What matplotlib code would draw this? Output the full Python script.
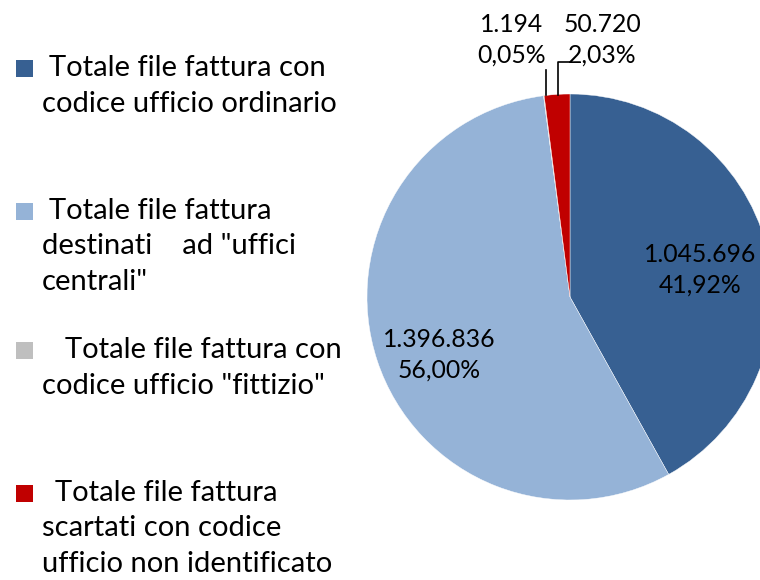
import matplotlib
matplotlib.use("Agg")
import matplotlib.pyplot as plt
from matplotlib.patches import Rectangle

categories = [
    "Totale file fattura con\ncodice ufficio ordinario",
    "Totale file fattura\ndestinati    ad \"uffici\ncentrali\"",
    "Totale file fattura con\ncodice ufficio \"fittizio\"",
    "Totale file fattura\nscartati con codice\nufficio non identificato",
]
values = [1045696, 1396836, 1194, 50720]
colors = ["#376092", "#95B3D7", "#BFBFBF", "#C00000"]

plt.rcParams["font.family"] = ["Lato", "DejaVu Sans"]

W, H = 760, 580
fig = plt.figure(figsize=(W / 100, H / 100), dpi=100)
ax = fig.add_axes([0, 0, 1, 1])

cx, cy, r = 570, 297, 203
# y axis is flipped below, so counterclock here draws clockwise on screen
ax.pie(values, colors=colors, startangle=-90, counterclock=True,
       center=(cx, cy), radius=r, frame=True,
       wedgeprops=dict(edgecolor="white", linewidth=0.3))
ax.set_xlim(0, W); ax.set_ylim(H, 0)
ax.set_aspect("equal"); ax.axis("off")

total = sum(values)


def fmt(v):
    num = f"{v:,}".replace(",", ".")
    pct = f"{100 * v / total:.2f}%".replace(".", ",")
    return f"{num}\n{pct}"


lfs = 21
kw = dict(ha="center", va="center", fontsize=17.8, color="black", linespacing=1.4)
ax.text(700, 270, fmt(values[0]), **kw)
ax.text(439, 355, fmt(values[1]), **kw)
ax.text(512, 40, fmt(values[2]), **kw)
ax.text(602, 40, fmt(values[3]), **kw)

# leader lines for the two thin slices
ax.plot([546, 546], [70, 95], color="black", lw=1.2)
ax.plot([558, 558, 570], [95, 62, 62], color="black", lw=1.2)

# legend
legend_y = [68, 211, 350, 493]
first_x = [49, 49, 65, 55]
for lab, col, y, fx in zip(categories, colors, legend_y, first_x):
    ax.add_patch(Rectangle((16, y - 8.5), 17, 17, facecolor=col, edgecolor="none"))
    lines = lab.split("\n")
    ax.text(fx, y, lines[0], ha="left", va="center", fontsize=lfs)
    for i, ln in enumerate(lines[1:], 1):
        ax.text(42, y + 35.5 * i, ln, ha="left", va="center", fontsize=lfs)

fig.savefig("out.png", dpi=100)
